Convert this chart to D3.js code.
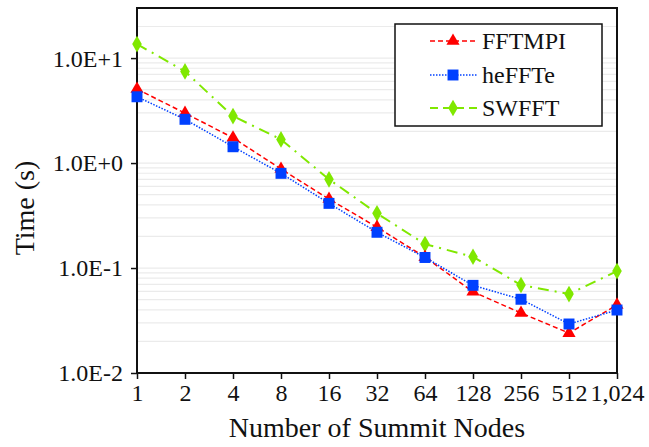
<!DOCTYPE html>
<html lang="en">
<head>
<meta charset="utf-8">
<title>Summit FFT timings</title>
<script src="https://d3js.org/d3.v7.min.js"></script>
<style>
  body { margin: 0; background: #fff; }
  text { font-family: "Liberation Serif", "Times New Roman", serif; fill: #111; }
</style>
</head>
<body>
<script>
// data
var nodes = ["1", "2", "4", "8", "16", "32", "64", "128", "256", "512", "1,024"];
var fftmpi = [5.07, 2.99, 1.74, 0.877, 0.454, 0.245, 0.127, 0.0594, 0.0373, 0.024, 0.0445];
var heffte = [4.28, 2.61, 1.43, 0.798, 0.413, 0.219, 0.126, 0.0684, 0.0504, 0.0293, 0.0398];
var swfft = [13.6, 7.46, 2.80, 1.68, 0.70, 0.332, 0.169, 0.128, 0.0689, 0.0565, 0.0935];
var yTicks = [10, 1, 0.1, 0.01];
var yTickLabels = ["1.0E+1", "1.0E+0", "1.0E-1", "1.0E-2"];
var seriesNames = ["FFTMPI", "heFFTe", "SWFFT"];

var w = 649, h = 447;
// plot box (note: "top" is taken by window.top, so use px names)
var pxLeft = 137, pxRight = 617, pxTop = 8, pxBottom = 373;

var svg = d3.select("body").append("svg")
    .attr("width", w)
    .attr("height", h);

var x = d3.scalePoint().domain(nodes).range([pxLeft, pxRight]).padding(0);
var y = d3.scaleLog().domain([0.01, 30]).range([pxBottom, pxTop]);

// minor gridlines
var grid = [];
[0.01, 0.1, 1, 10].forEach(function(d) {
  for (var k = 1; k <= 9; k++) {
    if (d * k <= 30) grid.push(d * k);
  }
});
svg.append("g").selectAll("line")
    .data(grid)
    .enter().append("line")
    .attr("x1", pxLeft).attr("x2", pxRight)
    .attr("y1", function(d) { return y(d); })
    .attr("y2", function(d) { return y(d); })
    .attr("stroke", "#ebebeb")
    .attr("stroke-width", 1.2);

// axes
var yAxis = d3.axisLeft(y).tickValues(yTicks)
    .tickFormat(function(d, i) { return yTickLabels[i]; })
    .tickSize(6).tickSizeOuter(0);
var gy = svg.append("g").attr("transform", "translate(" + pxLeft + ",0)").call(yAxis);
gy.attr("font-family", null);
gy.select(".domain").remove();
gy.selectAll("line").attr("stroke", "#111").attr("stroke-width", 1.5);
gy.selectAll("text").attr("font-size", 24).attr("x", -14).attr("dy", "0.33em");

var xAxis = d3.axisBottom(x).tickSize(6).tickSizeOuter(0);
var gx = svg.append("g").attr("transform", "translate(0," + pxBottom + ")").call(xAxis);
gx.attr("font-family", null);
gx.select(".domain").remove();
gx.selectAll("line").attr("stroke", "#111").attr("stroke-width", 1.5);
gx.selectAll("text").attr("font-size", 24).attr("y", 11).attr("dy", "0.71em");

// frame
svg.append("rect")
    .attr("x", pxLeft).attr("y", pxTop)
    .attr("width", pxRight - pxLeft).attr("height", pxBottom - pxTop)
    .attr("fill", "none").attr("stroke", "#111").attr("stroke-width", 2);

// axis titles
svg.append("text")
    .attr("x", 377).attr("y", 437)
    .attr("text-anchor", "middle").attr("font-size", 28)
    .text("Number of Summit Nodes");
svg.append("text")
    .attr("transform", "translate(34,208) rotate(-90)")
    .attr("text-anchor", "middle").attr("font-size", 28)
    .text("Time (s)");

var styles = [
  { data: fftmpi, color: "#ff0000", dash: "5,3", width: 1.5, marker: d3.symbolTriangle, size: 75 },
  { data: heffte, color: "#0040ff", dash: "1.5,1.5", width: 1.5, marker: d3.symbolSquare, size: 120 },
  { data: swfft, color: "#80e800", dash: "11,6,2,6", width: 2, marker: d3.symbolDiamond, size: 80 }
];

var line = d3.line()
    .x(function(d, i) { return x(nodes[i]); })
    .y(function(d) { return y(d); });

// draw swfft first so the others sit on top
[2, 0, 1].forEach(function(s) {
  var st = styles[s];
  svg.append("path")
      .datum(st.data)
      .attr("d", line)
      .attr("fill", "none")
      .attr("stroke", st.color)
      .attr("stroke-width", st.width)
      .attr("stroke-dasharray", st.dash);
  svg.append("g").selectAll("path")
      .data(st.data)
      .enter().append("path")
      .attr("d", d3.symbol().type(st.marker).size(st.size))
      .attr("transform", function(d, i) { return "translate(" + x(nodes[i]) + "," + y(d) + ")"; })
      .attr("fill", st.color);
});

// legend
var lg = svg.append("g");
lg.append("rect")
    .attr("x", 395).attr("y", 24).attr("width", 207).attr("height", 102)
    .attr("fill", "#fff").attr("stroke", "#111").attr("stroke-width", 1.5);
var rowY = [41, 75, 108];
styles.forEach(function(st, i) {
  lg.append("line")
      .attr("x1", 430).attr("x2", 477)
      .attr("y1", rowY[i]).attr("y2", rowY[i])
      .attr("stroke", st.color).attr("stroke-width", st.width)
      .attr("stroke-dasharray", i == 2 ? "8,5" : st.dash);
  lg.append("path")
      .attr("d", d3.symbol().type(st.marker).size(st.size))
      .attr("transform", "translate(453," + rowY[i] + ")")
      .attr("fill", st.color);
  lg.append("text")
      .attr("x", 482).attr("y", rowY[i]).attr("dy", "0.35em")
      .attr("font-size", 24)
      .text(seriesNames[i]);
});
</script>
</body>
</html>
